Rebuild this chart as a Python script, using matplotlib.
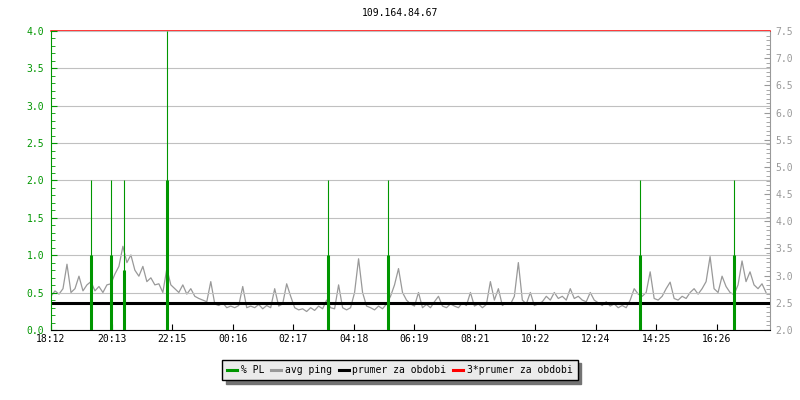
import matplotlib
matplotlib.use("Agg")
import matplotlib.pyplot as plt
import numpy as np
from matplotlib.ticker import MultipleLocator, AutoMinorLocator
from matplotlib.lines import Line2D

title = "109.164.84.67"
tick_labels = ["18:12", "20:13", "22:15", "00:16", "02:17", "04:18",
               "06:19", "08:21", "10:22", "12:24", "14:25", "16:26"]
tick_step_min = 121.25

# packet loss events (minutes from start), peak % and mean %
pl_times = [80, 120, 146, 232, 554, 674, 1180, 1368]
pl_max = [2.0, 2.0, 2.0, 4.0, 2.0, 2.0, 2.0, 2.0]
pl_avg = [1.0, 1.0, 0.8, 2.0, 1.0, 1.0, 1.0, 1.0]

# average ping (ms), one sample every 8 minutes
ping_ms = [
    2.62, 2.72, 2.66, 2.76, 3.21, 2.69, 2.76, 2.99, 2.72, 2.83,
    2.89, 2.72, 2.80, 2.69, 2.83, 2.85, 3.03, 3.17, 3.54, 3.24,
    3.38, 3.10, 2.99, 3.17, 2.89, 2.96, 2.83, 2.85, 2.69, 3.13,
    2.83, 2.76, 2.69, 2.83, 2.66, 2.76, 2.62, 2.58, 2.55, 2.52,
    2.89, 2.48, 2.45, 2.50, 2.41, 2.44, 2.41, 2.45, 2.80, 2.41,
    2.44, 2.41, 2.47, 2.39, 2.45, 2.41, 2.76, 2.44, 2.48, 2.85,
    2.62, 2.41, 2.37, 2.39, 2.34, 2.41, 2.36, 2.44, 2.39, 2.55,
    2.41, 2.39, 2.83, 2.41, 2.37, 2.41, 2.69, 3.31, 2.69, 2.44,
    2.41, 2.37, 2.44, 2.39, 2.48, 2.62, 2.83, 3.13, 2.69, 2.55,
    2.48, 2.44, 2.69, 2.41, 2.47, 2.41, 2.52, 2.62, 2.44, 2.41,
    2.48, 2.44, 2.41, 2.50, 2.45, 2.69, 2.44, 2.48, 2.41, 2.47,
    2.89, 2.55, 2.76, 2.45, 2.50, 2.47, 2.62, 3.24, 2.55, 2.48,
    2.69, 2.45, 2.48, 2.52, 2.62, 2.55, 2.69, 2.58, 2.62, 2.55,
    2.76, 2.58, 2.62, 2.55, 2.52, 2.69, 2.55, 2.50, 2.45, 2.52,
    2.44, 2.48, 2.41, 2.45, 2.41, 2.55, 2.76, 2.66, 2.62, 2.69,
    3.07, 2.58, 2.55, 2.62, 2.76, 2.88, 2.58, 2.55, 2.62, 2.58,
    2.69, 2.76, 2.66, 2.76, 2.89, 3.35, 2.76, 2.69, 2.99, 2.80,
    2.69, 2.65, 2.83, 3.27, 2.89, 3.07, 2.83, 2.76, 2.85, 2.69,
]
ping_times = np.arange(len(ping_ms)) * 8
avg_period = 2.5
avg_period_x3 = 3 * avg_period

GREEN = "#009600"
GRAY = "#999999"
GRID = "#c0c0c0"
FONT = "DejaVu Sans Mono"
FS = 7

plt.rcParams["font.family"] = [FONT, "DejaVu Sans"]

fig = plt.figure(figsize=(8, 4), dpi=100)
ax = fig.add_axes([51 / 800, 1 - 330 / 400, 719 / 800, 299 / 400])
ax2 = ax.twinx()

# right axis (ping)
ax2.plot(ping_times, ping_ms, color=GRAY, lw=0.9, zorder=2)
ax2.axhline(avg_period, color="black", lw=2.2, zorder=3)
ax2.axhline(avg_period_x3, color="red", lw=1.1, zorder=3, clip_on=False)
ax2.set_ylim(2.0, 7.5)
ax2.yaxis.set_major_locator(MultipleLocator(0.5))
ax2.yaxis.set_minor_locator(AutoMinorLocator(6))
ax2.tick_params(axis="y", which="both", direction="in", color=GRAY,
                labelcolor=GRAY, labelsize=FS, pad=4)
ax2.tick_params(axis="y", which="major", length=4)
ax2.tick_params(axis="y", which="minor", length=3)
ax2.yaxis.set_major_formatter(matplotlib.ticker.FormatStrFormatter("%.1f"))
for s in ["left", "top", "bottom"]:
    ax2.spines[s].set_visible(False)
ax2.spines["right"].set_color(GRAY)

# left axis (packet loss)
ax.set_zorder(ax2.get_zorder() + 1)
ax.patch.set_visible(False)
ax.vlines(pl_times, 0, pl_max, color=GREEN, lw=0.8, zorder=4)
ax.vlines(pl_times, 0, pl_avg, color=GREEN, lw=2.2, zorder=4)
ax.set_ylim(0, 4.0)
ax.set_xlim(0, 1440)
ax.yaxis.set_major_locator(MultipleLocator(0.5))
ax.yaxis.set_minor_locator(MultipleLocator(0.1))
ax.yaxis.set_major_formatter(matplotlib.ticker.FormatStrFormatter("%.1f"))
ax.tick_params(axis="y", which="both", direction="in", color=GREEN,
               labelcolor=GREEN, labelsize=FS, pad=5)
ax.tick_params(axis="y", which="major", length=4)
ax.tick_params(axis="y", which="minor", length=3)
ax.set_xticks(np.arange(len(tick_labels)) * tick_step_min)
ax.set_xticklabels(tick_labels)
ax.tick_params(axis="x", direction="in", length=4, labelsize=FS, pad=3, color="black")
ax.grid(axis="y", color=GRID, lw=0.8)
ax.grid(axis="x", visible=False)
for s in ["right", "top"]:
    ax.spines[s].set_visible(False)
ax.spines["left"].set_color(GREEN)
ax.spines["bottom"].set_color("black")

fig.suptitle(title, x=0.5, y=1 - 13 / 400, va="center", fontsize=FS, family=FONT)

handles = [Line2D([], [], color=GREEN, lw=2.2),
           Line2D([], [], color=GRAY, lw=2.2),
           Line2D([], [], color="black", lw=2.2),
           Line2D([], [], color="red", lw=2.2)]
labels = ["% PL", "avg ping", "prumer za obdobi", "3*prumer za obdobi"]
leg = fig.legend(handles, labels, loc="center", bbox_to_anchor=(0.5, 1 - 370 / 400),
                 ncol=4, fontsize=FS, frameon=True, fancybox=False,
                 shadow={"color": "0.45", "alpha": 1, "ox": 2.5, "oy": -2.5},
                 handlelength=1.0, handletextpad=0.4, columnspacing=0.7,
                 borderpad=0.55, framealpha=1)
leg.get_frame().set_facecolor("#ebebeb")
leg.get_frame().set_edgecolor("black")
leg.get_frame().set_linewidth(1.0)

fig.savefig("out.png", dpi=100)
